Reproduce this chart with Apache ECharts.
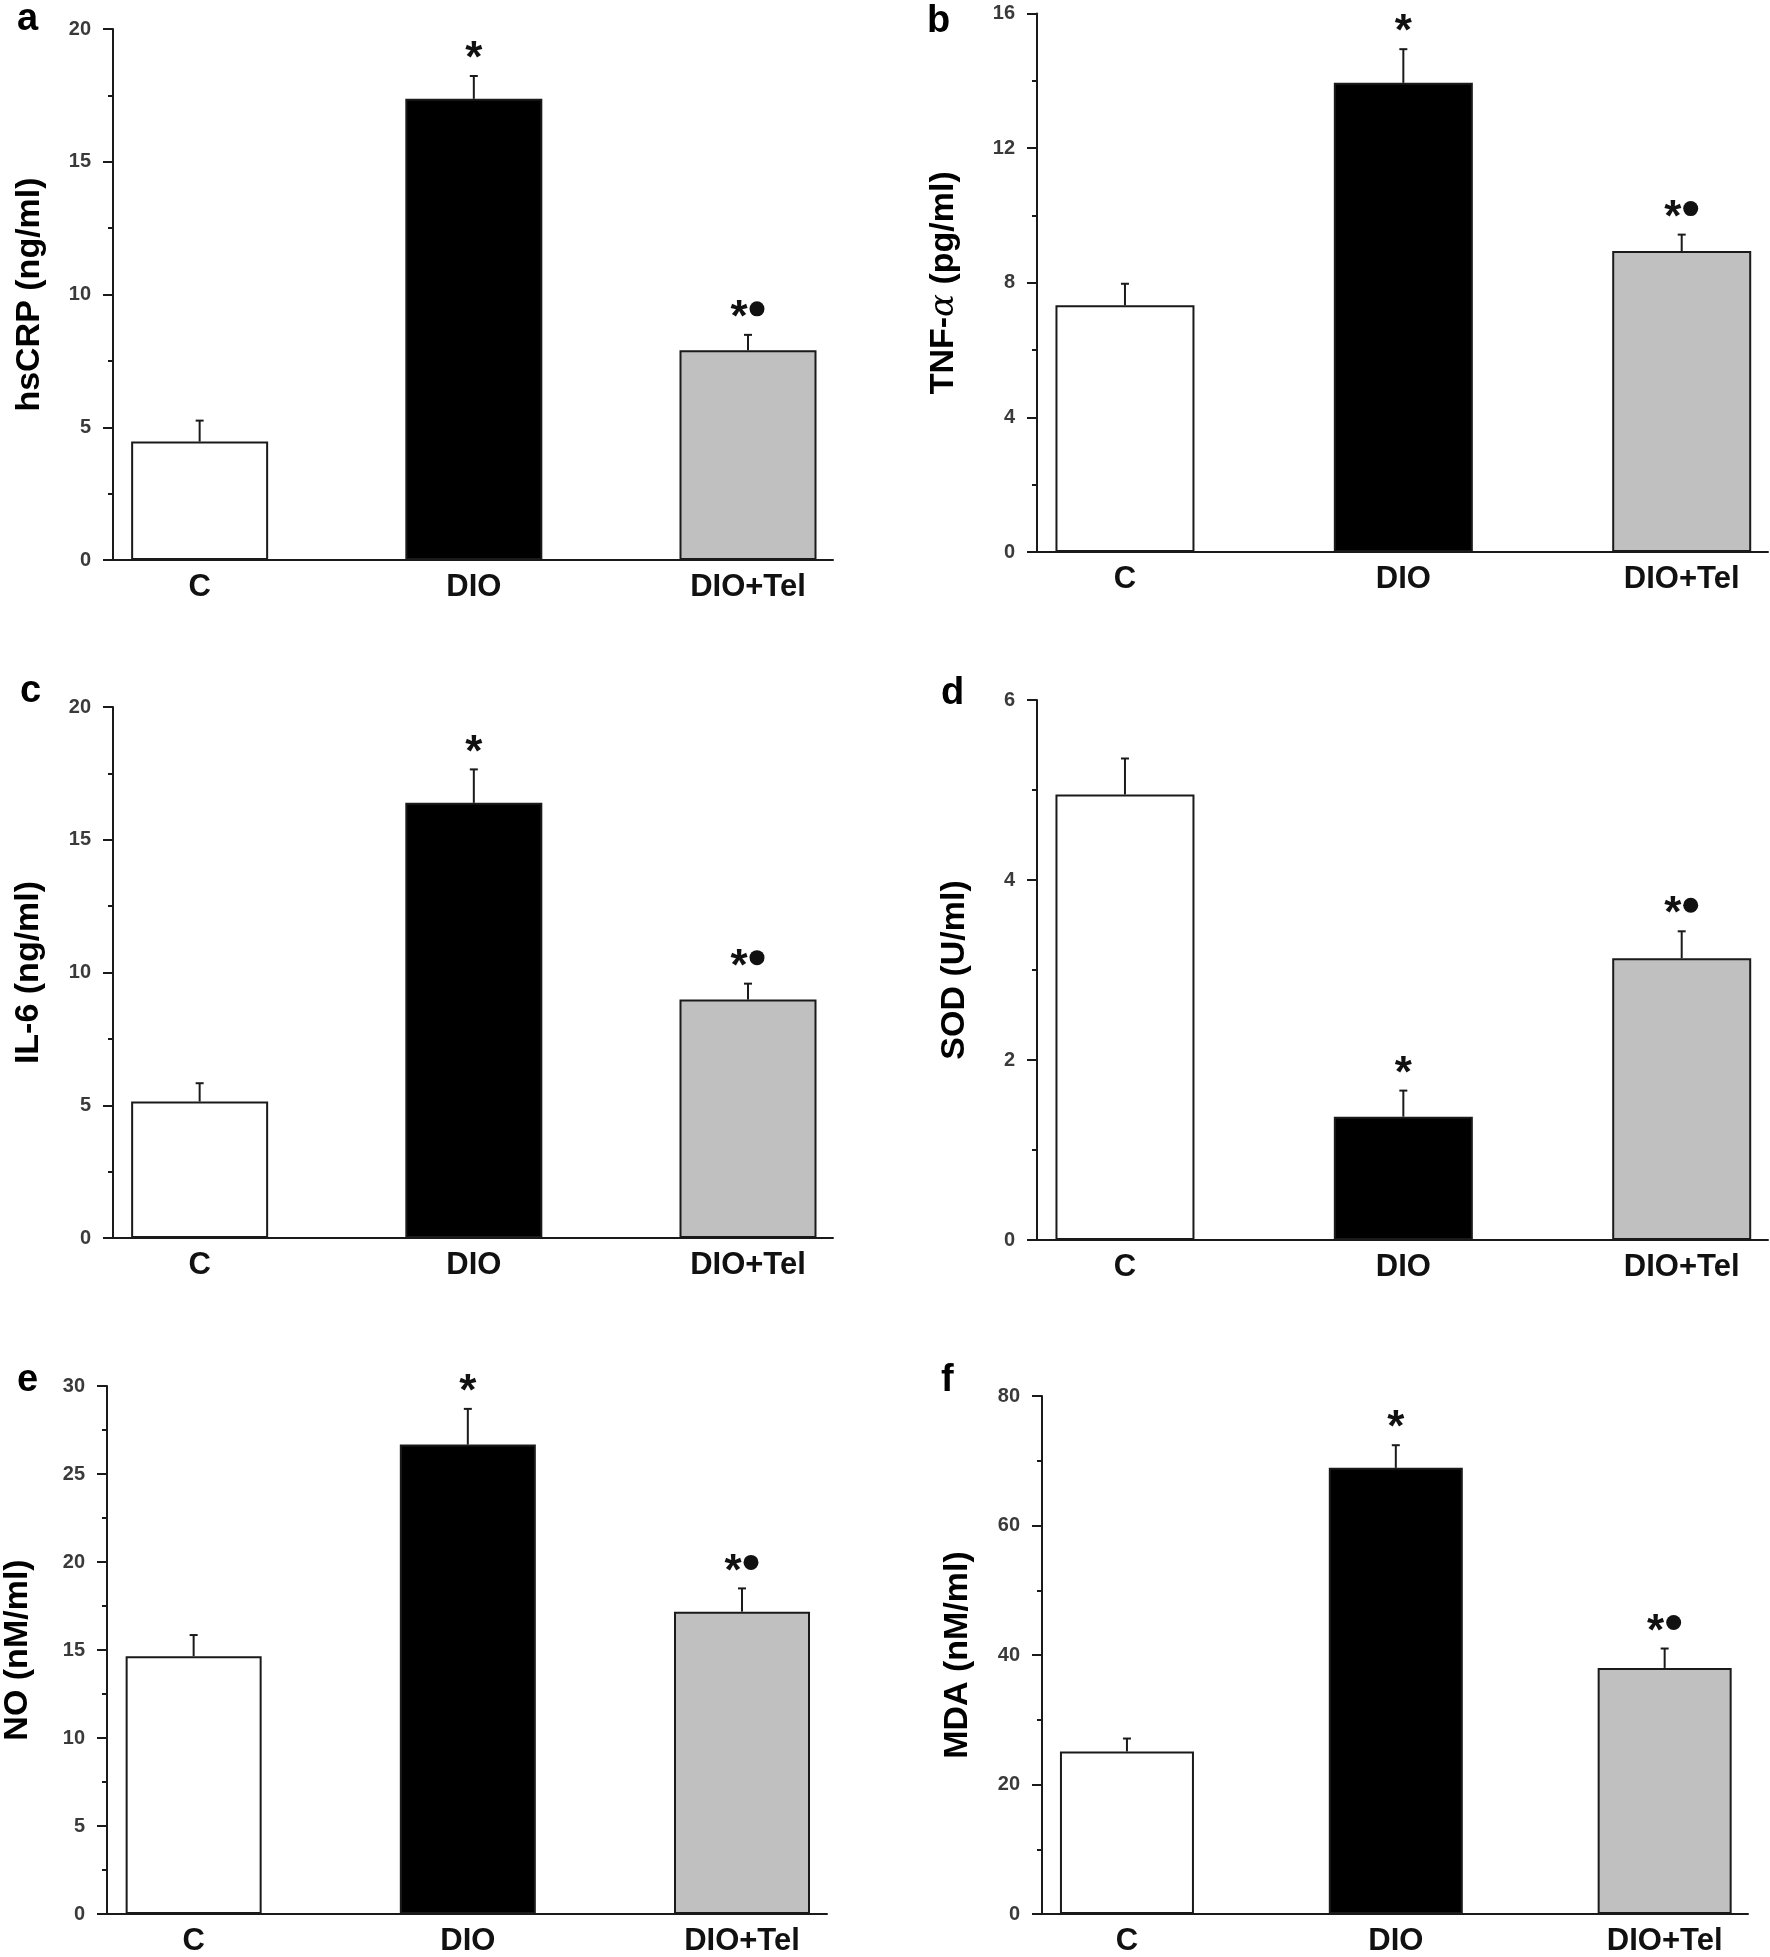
<!DOCTYPE html>
<html><head><meta charset="utf-8">
<script src="https://cdn.jsdelivr.net/npm/echarts@6/dist/echarts.min.js"></script>
<style>html,body{margin:0;padding:0;background:#fff}#main{width:1770px;height:1957px}</style>
</head><body><div id="main"></div>
<script>
// ---- data ----
const categories = ['C', 'DIO', 'DIO+Tel'];
const hsCRP = [4.46, 17.37, 7.90];
const hsCRPErr = [0.79, 0.86, 0.58];
const tnf = [7.33, 13.94, 8.94];
const tnfErr = [0.64, 1.00, 0.49];
const il6 = [5.14, 16.39, 8.98];
const il6Err = [0.69, 1.26, 0.60];
const sod = [4.95, 1.37, 3.13];
const sodErr = [0.40, 0.29, 0.30];
const no = [14.65, 26.67, 17.18];
const noErr = [1.20, 2.03, 1.32];
const mda = [25.1, 68.9, 38.0];
const mdaErr = [2.0, 3.5, 3.0];
const marks = ['', '*', '*●'];
const panelLetters = ['a', 'b', 'c', 'd', 'e', 'f'];
const yTitles = ['hsCRP (ng/ml)', 'TNF-α (pg/ml)', 'IL-6 (ng/ml)', 'SOD (U/ml)', 'NO (nM/ml)', 'MDA (nM/ml)'];
const yMax = [20, 16, 20, 6, 30, 80];
const yInterval = [5, 4, 5, 2, 5, 20];

const panelValues = [hsCRP, tnf, il6, sod, no, mda];
const panelErrs = [hsCRPErr, tnfErr, il6Err, sodErr, noErr, mdaErr];

// ---- layout / style ----
const layouts = [
  { left: 113, top: 29, width: 720, height: 531, barW: 137, gap: 66, lx: 17, ly: 33 },
  { left: 1037, top: 13.5, width: 731, height: 538.5, barW: 139, gap: 76, lx: 927, ly: 35 },
  { left: 113, top: 707, width: 720, height: 531, barW: 137, gap: 67, lx: 20, ly: 705 },
  { left: 1037, top: 700, width: 731, height: 540, barW: 139, gap: 65, lx: 941, ly: 707 },
  { left: 105, top: 1386, width: 722, height: 530, barW: 136, gap: 72, lx: 17, ly: 1394 },
  { left: 1042, top: 1396, width: 706, height: 518, barW: 134, gap: 67, lx: 941, ly: 1394 }
];
const fills = ['#ffffff', '#000000', '#c0c0c0'];
const FONT = '"Liberation Sans", Arial, Helvetica, sans-serif';
const INK = '#1a1a1a';

const grid = [], xAxis = [], yAxis = [], series = [], graphic = [];

layouts.forEach((L, i) => {
  grid.push({ left: L.left, top: L.top, width: L.width, height: L.height, containLabel: false });
  xAxis.push({
    type: 'value', gridIndex: i, min: 0.684, max: 3.31,
    axisLine: { show: true, onZero: false, lineStyle: { color: INK, width: 2 } },
    axisTick: { show: false },
    splitLine: { show: false },
    axisLabel: {
      customValues: [1, 2, 3],
      formatter: v => categories[Math.round(v) - 1] || '',
      fontFamily: FONT, fontSize: 31, fontWeight: 'bold', color: '#111', margin: 12
    }
  });
  const titleText = yTitles[i].replace('α', '{al|α}');
  yAxis.push({
    type: 'value', gridIndex: i, min: 0, max: yMax[i], interval: yInterval[i],
    axisLine: { show: true, lineStyle: { color: INK, width: 2 } },
    axisTick: { show: true, inside: false, length: 10, lineStyle: { color: INK, width: 2 } },
    minorTick: { show: true, splitNumber: 2, length: 5, lineStyle: { color: INK, width: 2 } },
    splitLine: { show: false },
    axisLabel: { fontFamily: FONT, fontSize: 20, fontWeight: 'bold', color: '#3a3a3a', margin: 22 },
    name: titleText, nameLocation: 'middle', nameGap: L.gap,
    nameTextStyle: {
      fontFamily: FONT, fontSize: 34, fontWeight: 'bold', color: '#000',
      rich: { al: { fontFamily: '"DejaVu Serif", "Liberation Serif", serif', fontStyle: 'italic', fontWeight: 'normal', fontSize: 34, color: '#000' } }
    }
  });
  const vals = panelValues[i], errs = panelErrs[i];
  series.push({
    type: 'bar', xAxisIndex: i, yAxisIndex: i, barWidth: L.barW,
    data: vals.map((v, k) => ({ value: [k + 1, v], itemStyle: { color: fills[k], borderColor: INK, borderWidth: 2 } })),
    animation: false
  });
  series.push({
    type: 'custom', xAxisIndex: i, yAxisIndex: i, z: 5, animation: false,
    data: vals.map((v, k) => [k + 1, v, v + errs[k], k]),
    renderItem: (params, api) => {
      const x = api.value(0), v = api.value(1), t = api.value(2), k = api.value(3);
      const p0 = api.coord([x, v]);
      const p1 = api.coord([x, t]);
      const ch = [
        { type: 'line', shape: { x1: p0[0], y1: p0[1], x2: p1[0], y2: p1[1] }, style: { stroke: INK, lineWidth: 2 } },
        { type: 'line', shape: { x1: p1[0] - 4, y1: p1[1], x2: p1[0] + 4, y2: p1[1] }, style: { stroke: INK, lineWidth: 2 } }
      ];
      const m = marks[k];
      const my = p1[1] - 26;
      if (m.indexOf('*') >= 0) {
        const ax = m.length > 1 ? p1[0] - 9 : p1[0];
        ch.push({ type: 'text', x: ax, y: my + 10, style: { text: '*', font: 'bold 44px ' + FONT, fill: '#111', align: 'center', verticalAlign: 'middle' } });
      }
      if (m.indexOf('●') >= 0) {
        ch.push({ type: 'circle', shape: { cx: p1[0] + 9, cy: my, r: 7.5 }, style: { fill: '#111' } });
      }
      return { type: 'group', children: ch };
    }
  });
  graphic.push({
    type: 'text', x: L.lx, y: L.ly - 13,
    style: { text: panelLetters[i], font: 'bold 38px ' + FONT, fill: '#000', align: 'left', verticalAlign: 'middle' }
  });
});

const chart = echarts.init(document.getElementById('main'), null, { renderer: 'canvas' });
chart.setOption({ animation: false, backgroundColor: '#fff', grid, xAxis, yAxis, series, graphic });
</script>
</body></html>
